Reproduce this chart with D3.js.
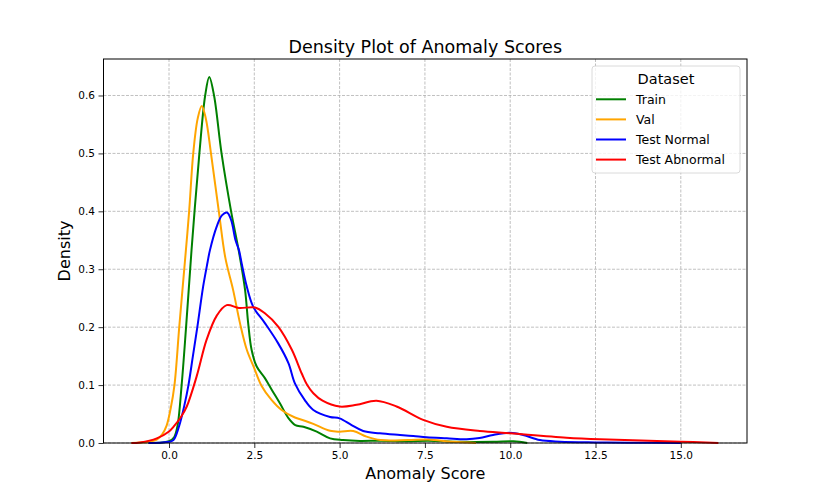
<!DOCTYPE html>
<html>
    <head>
        <meta charset="utf-8">
        <title>Density Plot of Anomaly Scores</title>
        <style>
            body { margin: 0; background: #fff; }
            text { font-family: 'DejaVu Sans', sans-serif; fill: #000; }
        </style>
        <script src="https://d3js.org/d3.v7.min.js"></script>
    </head>
    <body>
        <div id="chart"></div>
        <script>
            // values: [score, density]
            var series_names = ["Train", "Val", "Test Normal", "Test Abnormal"];
            var series_colors = ["green", "orange", "blue", "red"];
            var x_ticks = [0, 2.5, 5, 7.5, 10, 12.5, 15];
            var y_ticks = [0, 0.1, 0.2, 0.3, 0.4, 0.5, 0.6];

            var train = [[-0.6,0],[-0.2,0.001],[0.0,0.003],[0.15,0.01],[0.25,0.03],[0.37,0.1],[0.5,0.2],
                [0.66,0.333],[0.89,0.5],[1.06,0.6],[1.18,0.632],[1.32,0.6],[1.54,0.5],[1.82,0.4],[2.05,0.33],
                [2.23,0.264],[2.32,0.207],[2.42,0.161],[2.57,0.132],[2.81,0.112],[3.01,0.092],[3.25,0.0686],
                [3.5,0.043],[3.7,0.031],[3.94,0.028],[4.33,0.0196],[4.72,0.008],[5.1,0.005],[5.6,0.0035],
                [6.2,0.004],[7.0,0.003],[7.6,0.004],[8.5,0.002],[9.5,0.002],[10.1,0.003],[10.5,0]];
            var val = [[-1.1,0],[-0.6,0.002],[-0.36,0.006],[-0.2,0.015],[-0.07,0.03],[0.05,0.06],[0.16,0.1],
                [0.3,0.2],[0.47,0.316],[0.59,0.4],[0.71,0.5],[0.84,0.56],[0.96,0.582],[1.08,0.56],[1.23,0.5],
                [1.46,0.4],[1.65,0.32],[1.88,0.264],[2.08,0.207],[2.28,0.161],[2.5,0.129],[2.71,0.099],
                [3.01,0.074],[3.3,0.057],[3.69,0.044],[4.0,0.038],[4.23,0.033],[4.72,0.021],[5.0,0.0196],
                [5.4,0.0207],[5.79,0.011],[6.2,0.005],[7.0,0.005],[7.6,0.006],[8.3,0.002],[9.0,0]];
            var test_normal = [[-0.6,0],[-0.2,0.001],[0.0,0.002],[0.13,0.005],[0.3,0.03],[0.45,0.065],[0.57,0.1],
                [0.7,0.15],[0.83,0.2],[1.0,0.27],[1.13,0.312],[1.2,0.333],[1.4,0.374],[1.55,0.393],[1.7,0.398],
                [1.82,0.385],[1.95,0.35],[2.05,0.333],[2.13,0.31],[2.28,0.27],[2.47,0.235],[2.81,0.207],
                [3.2,0.172],[3.5,0.138],[3.69,0.103],[3.98,0.074],[4.23,0.057],[4.72,0.045],[5.0,0.0426],
                [5.35,0.031],[5.69,0.0207],[6.18,0.0167],[6.77,0.0138],[7.16,0.012],[7.55,0.0098],[8.14,0.008],
                [8.72,0.0064],[9.1,0.0085],[9.5,0.014],[10.0,0.0178],[10.38,0.0138],[10.87,0.005],[11.46,0.0023],
                [12.5,0.001],[13.5,0.0005],[15.0,0]];
            var test_abnormal = [[-1.1,0],[-0.85,0.001],[-0.36,0.008],[0.0,0.02],[0.13,0.028],[0.35,0.045],
                [0.52,0.063],[0.81,0.115],[1.1,0.178],[1.4,0.22],[1.69,0.238],[2.05,0.233],[2.52,0.234],
                [2.81,0.224],[3.2,0.201],[3.6,0.161],[3.89,0.12],[4.05,0.1],[4.23,0.086],[4.5,0.073],
                [5.0,0.063],[5.5,0.066],[6.08,0.073],[6.67,0.063],[7.45,0.04],[8.14,0.028],[9.11,0.0207],
                [10.0,0.0167],[11.65,0.0092],[12.63,0.0064],[15.0,0.0023],[16.1,0]];
            var all_series = [train, val, test_normal, test_abnormal];

            var width = 830, height = 498;
            var margin = {top: 59, right: 83, bottom: 55, left: 103.5};

            var svg = d3.select("#chart").append("svg")
                .attr("width", width)
                .attr("height", height);

            var x = d3.scaleLinear().domain([-1.92, 16.94]).range([margin.left, width - margin.right]);
            var y = d3.scaleLinear().domain([0, 0.663]).range([height - margin.bottom, margin.top]);

            // grid
            var grid = svg.append("g")
                .attr("stroke", "#b0b0b0")
                .attr("stroke-width", 0.8)
                .attr("stroke-dasharray", "3,1.5");
            grid.selectAll(".gx").data(x_ticks).enter().append("line")
                .attr("x1", d => x(d)).attr("x2", d => x(d))
                .attr("y1", margin.top).attr("y2", height - margin.bottom);
            grid.selectAll(".gy").data(y_ticks).enter().append("line")
                .attr("x1", margin.left).attr("x2", width - margin.right)
                .attr("y1", d => y(d)).attr("y2", d => y(d));

            // curves
            var line = d3.line()
                .x(d => x(d[0]))
                .y(d => y(d[1]))
                .curve(d3.curveCatmullRom.alpha(0.5));

            for (const i in all_series) {
                svg.append("path")
                    .datum(all_series[i])
                    .attr("fill", "none")
                    .attr("stroke", series_colors[i])
                    .attr("stroke-width", 2)
                    .attr("stroke-linejoin", "round")
                    .attr("d", line);
            }

            // axes
            var xAxis = svg.append("g")
                .attr("transform", "translate(0," + (height - margin.bottom) + ")")
                .call(d3.axisBottom(x).tickValues(x_ticks).tickFormat(d3.format(".1f")).tickSize(5).tickPadding(4));
            var yAxis = svg.append("g")
                .attr("transform", "translate(" + margin.left + ",0)")
                .call(d3.axisLeft(y).tickValues(y_ticks).tickFormat(d3.format(".1f")).tickSize(5).tickPadding(3.5));
            [xAxis, yAxis].forEach(function(a) {
                a.select(".domain").remove();
                a.selectAll("text").attr("font-size", "10.5px").attr("font-family", "'DejaVu Sans', sans-serif").attr("fill", "#000");
                a.selectAll("line").attr("stroke", "#000").attr("stroke-width", 0.8);
            });

            // frame
            svg.append("rect")
                .attr("x", margin.left)
                .attr("y", margin.top)
                .attr("width", width - margin.left - margin.right)
                .attr("height", height - margin.top - margin.bottom)
                .attr("fill", "none")
                .attr("stroke", "#000")
                .attr("stroke-width", 1);

            // title and labels
            svg.append("text")
                .attr("x", (margin.left + width - margin.right) / 2)
                .attr("y", 52.5)
                .attr("text-anchor", "middle")
                .attr("font-size", "17.5px")
                .text("Density Plot of Anomaly Scores");
            svg.append("text")
                .attr("x", (margin.left + width - margin.right) / 2)
                .attr("y", 479)
                .attr("text-anchor", "middle")
                .attr("font-size", "16px")
                .text("Anomaly Score");
            svg.append("text")
                .attr("transform", "translate(70," + ((margin.top + height - margin.bottom) / 2) + ") rotate(-90)")
                .attr("text-anchor", "middle")
                .attr("font-size", "16px")
                .text("Density");

            // legend
            var legend = svg.append("g").attr("transform", "translate(592,66)");
            legend.append("rect")
                .attr("width", 148)
                .attr("height", 107)
                .attr("rx", 3)
                .attr("fill", "#fff")
                .attr("fill-opacity", 0.8)
                .attr("stroke", "#d0d0d0")
                .attr("stroke-width", 0.8);
            legend.append("text")
                .attr("x", 74)
                .attr("y", 17.5)
                .attr("text-anchor", "middle")
                .attr("font-size", "14.5px")
                .text("Dataset");
            for (const i in series_names) {
                var ly = 33.3 + 20.1 * i;
                legend.append("line")
                    .attr("x1", 4).attr("x2", 34)
                    .attr("y1", ly).attr("y2", ly)
                    .attr("stroke", series_colors[i])
                    .attr("stroke-width", 2);
                legend.append("text")
                    .attr("x", 44)
                    .attr("y", ly + 4.5)
                    .attr("font-size", "12.5px")
                    .text(series_names[i]);
            }
        </script>
    </body>
</html>
